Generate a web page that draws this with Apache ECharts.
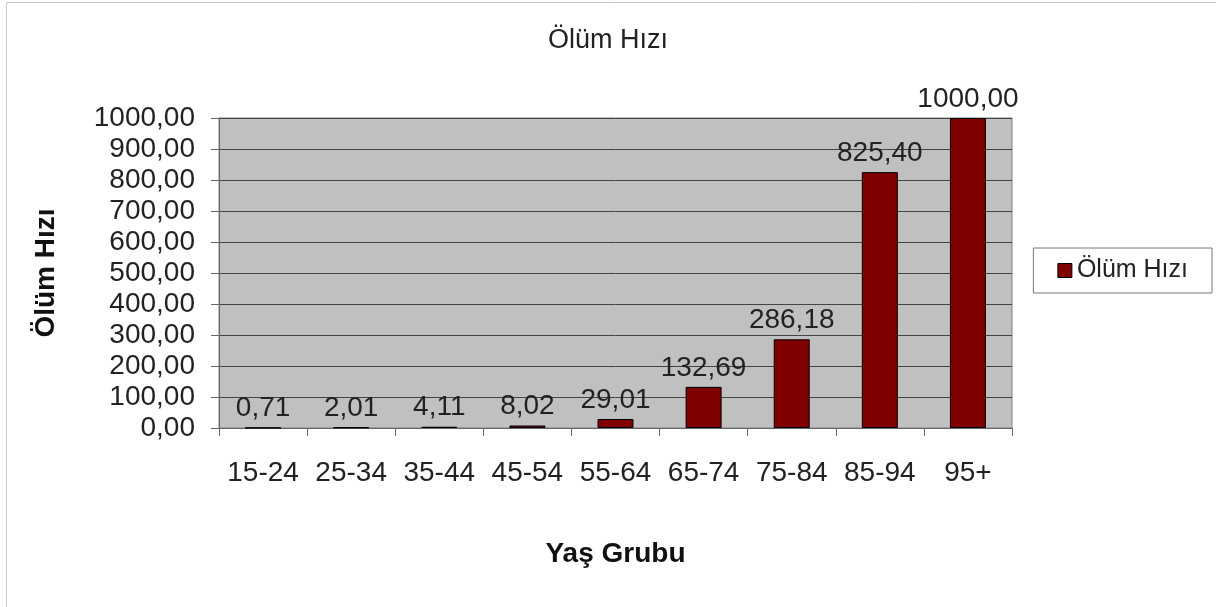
<!DOCTYPE html>
<html>
<head>
<meta charset="utf-8">
<script src="https://cdn.jsdelivr.net/npm/echarts@6/dist/echarts.min.js"></script>
<style>
  html, body { margin: 0; padding: 0; background: #fff; }
  #chart { width: 1216px; height: 607px; }
</style>
</head>
<body>
<div id="chart"></div>
<script>
// yaş grupları ve ölüm hızları
var ageGroups = ['15-24', '25-34', '35-44', '45-54', '55-64', '65-74', '75-84', '85-94', '95+']
var deathRates = [0.71, 2.01, 4.11, 8.02, 29.01, 132.69, 286.18, 825.40, 1000.00]
var seriesName = 'Ölüm Hızı'

var fmt = function(v) {
  return Number(v).toFixed(2).replace('.', ',')
}

var chart = echarts.init(document.getElementById('chart'))
var font = '"Liberation Sans", Arial, sans-serif'

chart.setOption({
  animation: false,
  textStyle: { fontFamily: font },
  graphic: [{
    type: 'rect',
    shape: { x: 6.5, y: 2.5, width: 1230, height: 620 },
    style: { fill: 'none', stroke: '#c8c8c8', lineWidth: 1 },
    z: -1
  }],
  title: {
    text: 'Ölüm Hızı',
    left: 'center',
    top: 22,
    textStyle: { fontSize: 27, fontWeight: 'normal', color: '#222', fontFamily: font }
  },
  legend: {
    data: [seriesName],
    right: 4,
    top: 248,
    orient: 'vertical',
    borderColor: '#777',
    borderWidth: 1,
    padding: [10, 24, 10, 24],
    icon: 'rect',
    itemWidth: 14,
    itemHeight: 14,
    itemGap: 4,
    itemStyle: { borderColor: '#000', borderWidth: 1 },
    textStyle: { fontSize: 25, color: '#222', fontFamily: font }
  },
  grid: {
    left: 219,
    right: 204,
    top: 118,
    bottom: 179,
    show: true,
    backgroundColor: '#c0c0c0',
    borderColor: '#808080',
    borderWidth: 1
  },
  xAxis: {
    type: 'category',
    data: ageGroups,
    name: 'Yaş Grubu',
    nameLocation: 'middle',
    nameGap: 112,
    nameTextStyle: { fontSize: 28, fontWeight: 'bold', color: '#111', fontFamily: font },
    axisLine: { lineStyle: { color: '#666', width: 1 } },
    axisTick: { show: true, length: 8, lineStyle: { color: '#666' } },
    axisLabel: { fontSize: 28, color: '#222', margin: 31, interval: 0, hideOverlap: false }
  },
  yAxis: {
    type: 'value',
    min: 0,
    max: 1000,
    interval: 100,
    name: 'Ölüm Hızı',
    nameLocation: 'middle',
    nameGap: 159,
    nameTextStyle: { fontSize: 28, fontWeight: 'bold', color: '#111', fontFamily: font },
    axisLine: { show: true, lineStyle: { color: '#666', width: 1 } },
    axisTick: { show: true, length: 8, lineStyle: { color: '#666' } },
    axisLabel: { fontSize: 28, color: '#222', margin: 24, formatter: fmt },
    splitLine: { show: true, lineStyle: { color: '#444', width: 1 } }
  },
  series: [{
    name: seriesName,
    type: 'bar',
    data: deathRates,
    barWidth: 36,
    itemStyle: { color: '#800000', borderColor: '#000', borderWidth: 1 },
    label: {
      show: true,
      position: 'top',
      distance: 5,
      fontSize: 28,
      color: '#222',
      formatter: function(p) { return fmt(p.value) }
    }
  }]
})
</script>
</body>
</html>
